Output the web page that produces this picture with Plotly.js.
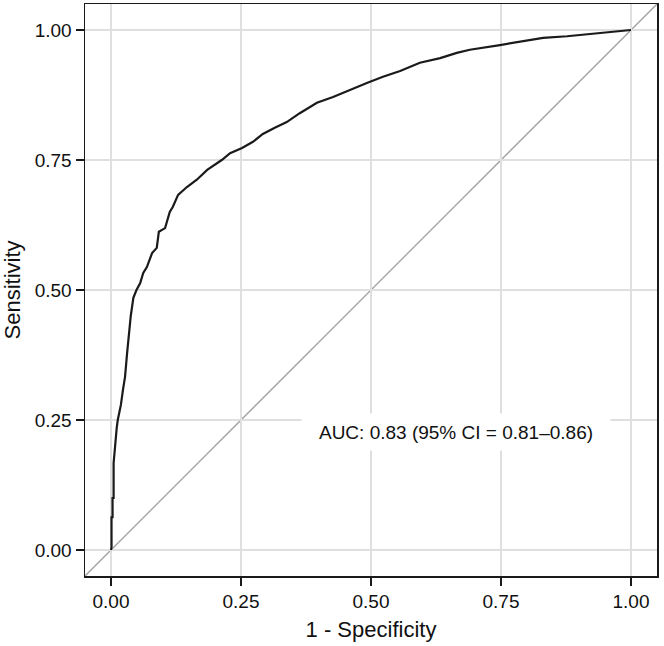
<!DOCTYPE html>
<html>
<head>
<meta charset="utf-8">
<script src="https://cdn.plot.ly/plotly-3.0.1.min.js"></script>
<style>html,body{margin:0;padding:0;background:#fff;}</style>
</head>
<body>
<div id="chart" style="width:664px;height:646px;"></div>
<script>
// ROC curve (1 - specificity, sensitivity)
const fpr = [0, 0.001, 0.001, 0.003, 0.003, 0.005, 0.005, 0.008, 0.011, 0.013, 0.017, 0.019, 0.023, 0.027, 0.031, 0.034, 0.038, 0.043, 0.049, 0.056, 0.062, 0.069, 0.079, 0.088, 0.092, 0.104, 0.113, 0.119, 0.129, 0.146, 0.165, 0.185, 0.213, 0.229, 0.252, 0.273, 0.292, 0.315, 0.338, 0.363, 0.396, 0.427, 0.460, 0.492, 0.523, 0.556, 0.594, 0.633, 0.665, 0.690, 0.748, 0.781, 0.831, 0.877, 0.935, 0.973, 1.0];
const tpr = [0, 0.005, 0.063, 0.063, 0.100, 0.100, 0.167, 0.206, 0.235, 0.250, 0.269, 0.279, 0.308, 0.333, 0.379, 0.417, 0.450, 0.485, 0.500, 0.513, 0.533, 0.544, 0.571, 0.581, 0.612, 0.619, 0.650, 0.660, 0.683, 0.698, 0.712, 0.731, 0.750, 0.763, 0.773, 0.785, 0.800, 0.812, 0.823, 0.840, 0.860, 0.871, 0.885, 0.898, 0.910, 0.921, 0.937, 0.946, 0.956, 0.962, 0.971, 0.977, 0.985, 0.988, 0.994, 0.998, 1.0];
const tickVals = [0, 0.25, 0.5, 0.75, 1];
const tickText = ["0.00", "0.25", "0.50", "0.75", "1.00"];
const axisRange = [-0.05, 1.05];
const aucLabel = "AUC: 0.83 (95% CI = 0.81\u20130.86)";
const xTitle = "1 - Specificity";
const yTitle = "Sensitivity";

const font = "Liberation Sans, Arial, sans-serif";

const traces = [{
  x: fpr, y: tpr, type: "scatter", mode: "lines",
  line: {color: "#1a1a1a", width: 2.2, shape: "linear"},
  hoverinfo: "skip", showlegend: false
}];

const axisCommon = {
  range: axisRange,
  tickvals: tickVals, ticktext: tickText,
  showgrid: true, gridcolor: "#dfdfdf", gridwidth: 1.5,
  zeroline: false,
  showline: true, mirror: true, linecolor: "#1a1a1a", linewidth: 1.5,
  ticks: "outside", ticklen: 8, tickwidth: 1.5, tickcolor: "#1a1a1a",
  tickfont: {family: font, size: 19, color: "#111"},
  fixedrange: true
};

const layout = {
  width: 664, height: 646,
  margin: {l: 85, r: 7, t: 4, b: 70},
  paper_bgcolor: "#fff", plot_bgcolor: "#fff",
  font: {family: font, color: "#111"},
  xaxis: Object.assign({}, axisCommon, {
    title: {text: xTitle, font: {family: font, size: 22, color: "#111"}, standoff: 10}
  }),
  yaxis: Object.assign({}, axisCommon, {
    title: {text: yTitle, font: {family: font, size: 22, color: "#111"}, standoff: 12}
  }),
  shapes: [{
    type: "line", xref: "x", yref: "y",
    x0: axisRange[0], y0: axisRange[0], x1: axisRange[1], y1: axisRange[1],
    line: {color: "#a0a0a0", width: 1.3}, layer: "below"
  }],
  annotations: [{
    x: 0.663, y: 0.227, xref: "x", yref: "y",
    text: aucLabel, showarrow: false,
    font: {family: font, size: 19, color: "#111"},
    bgcolor: "#ffffff", width: 306, height: 34, borderpad: 1,
    xanchor: "center", yanchor: "middle"
  }]
};

Plotly.newPlot("chart", traces, layout, {displayModeBar: false, staticPlot: true});
</script>
</body>
</html>
